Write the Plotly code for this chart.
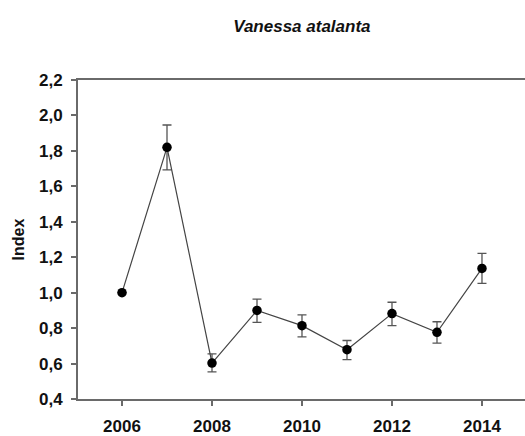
import plotly.graph_objects as go

years = [2006, 2007, 2008, 2009, 2010, 2011, 2012, 2013, 2014]
index_vals = [1.0, 1.82, 0.603, 0.90, 0.814, 0.678, 0.882, 0.776, 1.137]
err_upper = [1.0, 1.946, 0.655, 0.963, 0.875, 0.730, 0.946, 0.836, 1.222]
err_lower = [1.0, 1.693, 0.553, 0.832, 0.750, 0.622, 0.814, 0.715, 1.052]
x_ticks = [2006, 2008, 2010, 2012, 2014]
y_ticks = [0.4, 0.6, 0.8, 1.0, 1.2, 1.4, 1.6, 1.8, 2.0, 2.2]

plus = [u - v for u, v in zip(err_upper, index_vals)]
minus = [v - l for v, l in zip(index_vals, err_lower)]
plus = [p if p > 0.001 else None for p in plus]
minus = [m if m > 0.001 else None for m in minus]

FONT = "Liberation Sans, Arial, sans-serif"
TXT = "#111111"
AX = "#6a6a6a"

fig = go.Figure()
fig.add_trace(go.Scatter(
    x=years, y=index_vals, mode="lines+markers",
    line=dict(color="#444444", width=1.2),
    marker=dict(color="black", size=9.5),
    error_y=dict(type="data", symmetric=False, array=plus, arrayminus=minus,
                 color="#555555", thickness=1.3, width=4.5),
    showlegend=False,
))

fig.update_layout(
    width=525, height=436,
    margin=dict(l=78, r=0, t=80, b=33),
    paper_bgcolor="white", plot_bgcolor="white",
    separators=",.",
    font=dict(family=FONT, color=TXT),
    title=dict(text="Vanessa atalanta", x=0.575, xanchor="center",
               y=0.94, yanchor="middle",
               font=dict(size=17, color=TXT, family=FONT, weight="bold", style="italic")),
    xaxis=dict(range=[2005.022, 2014.956], tickvals=x_ticks,
               showgrid=False, zeroline=False, showline=True, linecolor=AX,
               linewidth=2, mirror=True, ticks="outside", ticklen=5, tickcolor=AX,
               tickwidth=1.5, ticklabelstandoff=6,
               tickfont=dict(size=17, family=FONT, color=TXT, weight="bold")),
    yaxis=dict(range=[0.4, 2.2], tickvals=y_ticks,
               tickformat=".1f", showgrid=False, zeroline=False, showline=True,
               linecolor=AX, linewidth=2, ticks="outside", ticklen=5,
               tickcolor=AX, tickwidth=1.5, ticklabelstandoff=5,
               tickfont=dict(size=17, family=FONT, color=TXT, weight="bold"),
               title=dict(text="Index", standoff=10,
                          font=dict(size=16, color=TXT, family=FONT, weight="bold"))),
)

fig.write_html("out.html",
               config={"displayModeBar": False},
               post_script="document.body.style.margin='0px';document.body.style.overflow='hidden';")
